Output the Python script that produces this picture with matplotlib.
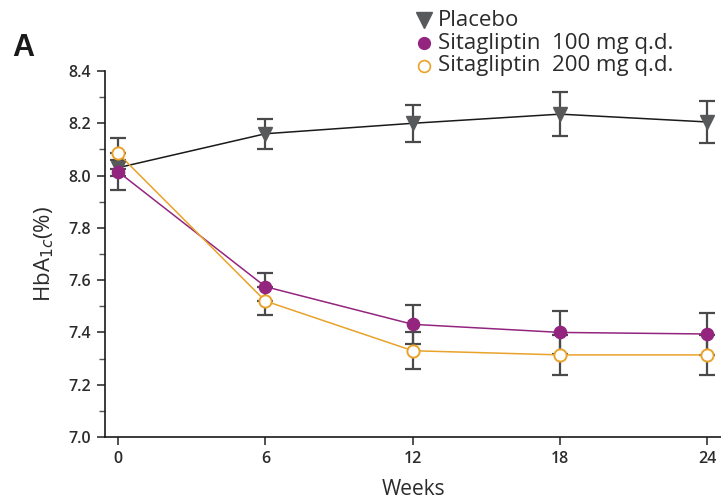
import matplotlib.pyplot as plt
from matplotlib.ticker import MultipleLocator

plt.rcParams['font.family'] = ['Open Sans', 'DejaVu Sans']

weeks = [0, 6, 12, 18, 24]

placebo = [8.03, 8.16, 8.20, 8.235, 8.205]
placebo_err = [0.03, 0.058, 0.07, 0.083, 0.079]

sita100 = [8.015, 7.575, 7.431, 7.40, 7.394]
sita100_err = [0.07, 0.053, 0.074, 0.083, 0.079]

sita200 = [8.085, 7.52, 7.330, 7.314, 7.314]
sita200_err = [0.06, 0.053, 0.071, 0.077, 0.077]

labels = ['Placebo', 'Sitagliptin  100 mg q.d.', 'Sitagliptin  200 mg q.d.']

err_col = '#4a4a4c'
grey = '#58595b'
purple = '#93257f'
orange = '#e9a22a'
text_col = '#2b2b2b'

fig = plt.figure(figsize=(7.21, 4.99), dpi=100)
ax = fig.add_axes([105 / 721, 1 - 437 / 499, 616 / 721, 366 / 499])

# error bars underneath everything
for y, e in [(placebo, placebo_err), (sita100, sita100_err), (sita200, sita200_err)]:
    ax.errorbar(weeks, y, yerr=e, fmt='none', ecolor=err_col, elinewidth=1.6,
                capsize=5.5, capthick=1.6, zorder=2)

ax.plot(weeks, placebo, color='#1a1a1a', lw=1.1, zorder=3)
ax.plot(weeks, sita100, color=purple, lw=1.1, zorder=3)
ax.plot(weeks, sita200, color=orange, lw=1.1, zorder=3)

ax.plot(weeks, placebo, 'v', ms=10, color=grey, mec=grey, zorder=4)
ax.plot(weeks, sita100, 'o', ms=8.8, color=purple, mec=purple, zorder=5)
ax.plot(weeks, sita200, 'o', ms=8.8, mfc='white', mec=orange, mew=1.4, zorder=6)

ax.set_xlim(-0.53, 24.55)
ax.set_ylim(7.0, 8.4)
ax.set_xticks(weeks)
ax.yaxis.set_major_locator(MultipleLocator(0.2))
ax.yaxis.set_minor_locator(MultipleLocator(0.1))
ax.set_yticklabels([f'{v:.1f}' for v in ax.get_yticks()])

for s in ['top', 'right']:
    ax.spines[s].set_visible(False)
for s in ['left', 'bottom']:
    ax.spines[s].set_color('#1a1a1a')
    ax.spines[s].set_linewidth(1.2)

ax.tick_params(axis='both', which='major', length=6, width=1.2, color='#333333',
               labelsize=11.5, labelcolor=text_col, pad=4)
ax.tick_params(axis='y', which='minor', length=4, width=1.0, color='#555555')
for lbl in ax.get_xticklabels() + ax.get_yticklabels():
    lbl.set_fontweight('semibold')

ax.set_ylabel('HbA$_{1c}$(%)', fontsize=16, color=text_col, labelpad=9)
ax.set_xlabel('Weeks', fontsize=15, color=text_col, labelpad=9)

fig.text(12 / 721, 1 - 48 / 499, 'A', fontsize=22, fontweight='bold',
         family='Liberation Sans', color='#1a1a1a', va='center')

# legend
leg_rows = [
    dict(marker='v', ms=11, color=grey, mec=grey),
    dict(marker='o', ms=8.5, color=purple, mec=purple),
    dict(marker='o', ms=8.5, mfc='white', mec=orange, mew=1.2),
]
for i, (lab, st) in enumerate(zip(labels, leg_rows)):
    yy = 1 - (20 + 23 * i) / 499
    fig.lines.append(plt.Line2D([424 / 721], [yy], linestyle='none',
                                transform=fig.transFigure, **st))
    fig.text(438 / 721, yy, lab, fontsize=16, color=text_col, va='center')

fig.savefig('out.png', dpi=100)
